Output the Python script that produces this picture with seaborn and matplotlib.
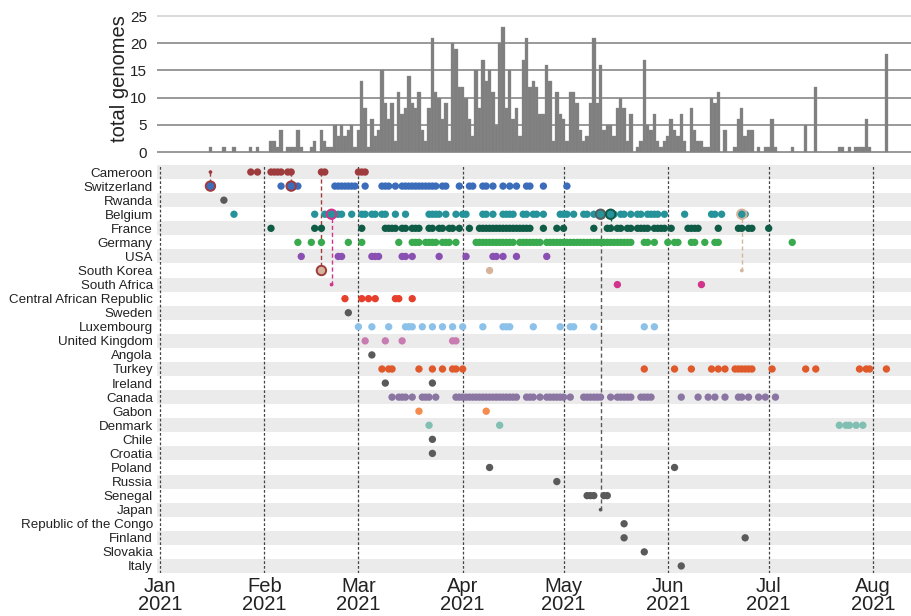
import matplotlib
matplotlib.use("Agg")
import matplotlib.pyplot as plt
import numpy as np
import pandas as pd
import seaborn as sns

# All days are counted from 2021-01-01 (day 0 = 1 Jan 2021)

# ---- daily totals (top histogram), consecutive days starting at hist_start_day
hist_start_day = 15
hist_counts = [1, 0, 0, 0, 1, 0, 0, 1, 0, 0, 0, 0, 1, 0, 1, 0, 0, 0, 2, 2, 1, 4, 0, 1, 1, 1, 4, 1, 0, 0,
               1, 2, 0, 4, 2, 1, 1,
               5, 3, 5, 3, 4, 5, 1, 4, 13, 8, 1, 6, 3, 4, 15, 9, 6, 9, 2, 11, 7, 8, 14, 9, 8, 11, 4, 2,
               8, 21, 11, 10, 6, 9, 2, 20, 19, 12, 12, 10, 6, 3, 15, 8, 17, 13, 15, 11, 5, 20,
               23, 8, 15, 6, 8, 3, 17, 21, 12, 13, 12, 7, 7, 16, 13, 2, 11, 7, 6, 2, 11, 11, 9, 4, 2,
               3, 9, 21, 9, 16, 4, 5, 5, 3, 8, 10, 8, 2, 7, 0, 1, 2, 17, 5, 4, 7, 2, 1, 2, 3, 6, 4, 3, 7, 2,
               0, 8, 4, 2, 2, 1, 1, 10, 9, 11, 0, 4, 0, 0, 1, 6, 8, 3, 4, 4, 0, 1, 0, 1, 1, 6, 1, 0, 0, 0,
               0, 1, 0, 0, 0, 5, 0, 0, 12, 0, 0, 0, 0, 0, 0, 1, 1, 0, 1, 0, 1, 1, 1, 6, 1, 0, 0, 0, 0, 18]

# ---- countries (rows, top to bottom) and their colours
countries = ["Cameroon", "Switzerland", "Rwanda", "Belgium", "France", "Germany", "USA",
             "South Korea", "South Africa", "Central African Republic", "Sweden", "Luxembourg",
             "United Kingdom", "Angola", "Turkey", "Ireland", "Canada", "Gabon", "Denmark", "Chile",
             "Croatia", "Poland", "Russia", "Senegal", "Japan", "Republic of the Congo", "Finland",
             "Slovakia", "Italy"]
country_colors = ["#9e3b3d", "#3b6dbb", "#5a5a5a", "#26939a", "#0f5c46", "#3aaa4e", "#8a4fb2",
                  "#d5b49b", "#d3348b", "#e6402c", "#5a5a5a", "#8cc1e9", "#c87cb1", "#5a5a5a",
                  "#e0592a", "#5a5a5a", "#8b76a3", "#f58b4c", "#80bfb2", "#5a5a5a", "#5a5a5a",
                  "#5a5a5a", "#5a5a5a", "#5a5a5a", "#5a5a5a", "#5a5a5a", "#5a5a5a", "#5a5a5a", "#5a5a5a"]

# ---- sampling days per country
cameroon = [27, 29, 33, 34, 35, 36, 38, 39, 48, 49, 59, 60, 61]
switzerland = [36, 40, 41, 52, 53, 54, 55, 56, 57, 58, 61, 66, 67, 68, 70, 72, 73, 74, 75, 76, 77,
               78, 79, 80, 81, 82, 84, 85, 89, 92, 93, 96, 97, 99, 102, 104, 106, 109, 110, 114, 121]
rwanda = [19]
belgium = [22, 46, 49, 50, 52, 53, 54, 57, 60, 61, 63, 64, 66, 67, 70, 73, 80, 81, 82, 83, 85, 88,
           90, 91, 96, 97, 99, 102, 103, 104, 105, 108, 109, 111, 112, 114, 119, 120, 121, 123, 126,
           127, 129, 135, 137, 138, 140, 142, 143, 145, 146, 147, 148, 150, 156, 164, 165, 167, 174]
france = [33, 46, 48, 60, 67, 68, 69, 70, 72, 73, 75, 76, 77, 80, 81, 83, 84, 86, 87, 89, 92, 95, 96,
          97, 98, 99, 100, 101, 102, 103, 104, 105, 106, 107, 108, 109, 110, 114, 118, 120, 129, 133,
          134, 136, 137, 139, 140, 142, 143, 144, 145, 147, 148, 149, 150, 152, 157, 158, 159, 160,
          166, 172, 173, 175, 176, 181]
germany = [41, 45, 48, 56, 60, 71, 75, 76, 77, 79, 80, 81, 82, 84, 85, 86, 88, 94, 95, 96, 97, 98, 99,
           100, 101, 102, 103, 104, 105, 107, 108, 109, 110, 111, 112, 113, 115, 116, 117, 118, 119,
           120, 121, 122, 123, 124, 125, 126, 127, 128, 129, 130, 131, 132, 133, 134, 135, 136, 137,
           138, 139, 140, 144, 145, 147, 151, 153, 154, 158, 159, 162, 165, 166, 188]
usa = [42, 53, 54, 63, 64, 65, 72, 73, 75, 83, 91, 99, 100, 102, 106, 115]
south_korea = [98]
south_africa = [136, 161]
central_african_republic = [55, 60, 62, 64, 70, 71, 75]
sweden = [56]
luxembourg = [59, 63, 68, 73, 74, 75, 78, 81, 84, 87, 90, 96, 102, 103, 104, 111, 119, 122, 123, 129,
              144, 147]
united_kingdom = [61, 67, 72, 87, 88]
angola = [63]
turkey = [66, 68, 69, 77, 81, 84, 87, 88, 90, 144, 153, 158, 164, 166, 168, 171, 172, 173, 174, 175,
          176, 182, 192, 195, 208, 210, 211, 216]
ireland = [67, 81]
canada = [69, 71, 72, 73, 75, 78, 79, 80, 82, 88, 89, 90, 91, 92, 93, 94, 95, 96, 97, 98, 99, 100,
          101, 102, 103, 104, 105, 106, 109, 110, 111, 113, 115, 116, 117, 118, 119, 120, 122, 126,
          127, 128, 129, 130, 131, 134, 136, 137, 138, 139, 140, 143, 144, 145, 146, 155, 160, 163,
          165, 168, 172, 173, 175, 178, 180, 183]
gabon = [77, 97]
denmark = [80, 101, 202, 204, 205, 207, 209]
chile = [81]
croatia = [81]
poland = [98, 153]
russia = [118]
senegal = [127, 128, 129, 132, 133]
japan = []
republic_of_the_congo = [138]
finland = [138, 174]
slovakia = [144]
italy = [155]

# ---- highlighted links (small source dot -> big circle in target row)
link_days = [15, 39, 48, 51, 131, 134, 173]
link_source = ["Cameroon", "Cameroon", "Cameroon", "South Africa", "Japan", "France", "South Korea"]
link_target = ["Switzerland", "Switzerland", "South Korea", "Belgium", "Belgium", "Belgium", "Belgium"]
link_small_source = [True, False, False, True, True, False, True]

month_days = [0, 31, 59, 90, 120, 151, 181, 212]
month_labels = ["Jan\n2021", "Feb\n2021", "Mar\n2021", "Apr\n2021", "May\n2021", "Jun\n2021",
                "Jul\n2021", "Aug\n2021"]

# ---------------------------------------------------------------------------
sns.set_style("white")
plt.rcParams["font.family"] = ["Liberation Sans", "DejaVu Sans"]
plt.rcParams["text.color"] = "#222222"

day_lists = [cameroon, switzerland, rwanda, belgium, france, germany, usa, south_korea, south_africa,
             central_african_republic, sweden, luxembourg, united_kingdom, angola, turkey, ireland,
             canada, gabon, denmark, chile, croatia, poland, russia, senegal, japan,
             republic_of_the_congo, finland, slovakia, italy]
palette = dict(zip(countries, country_colors))
row_of = {c: i for i, c in enumerate(countries)}

rows = []
for c, days in zip(countries, day_lists):
    for d in days:
        rows.append((c, d, row_of[c]))
df = pd.DataFrame(rows, columns=["country", "day", "row"])

hist_df = pd.DataFrame({"day": np.arange(hist_start_day, hist_start_day + len(hist_counts)),
                        "count": hist_counts})

W, H = 911, 616
fig = plt.figure(figsize=(W / 100, H / 100), dpi=100)
px_per_day = 3.363
x0_day = -3 / px_per_day
x1_day = (W - 160) / px_per_day
left = 157 / W

# ---- top histogram
ax_t = fig.add_axes([left, 1 - 154.2 / H, 1 - left, (154.2 - 2.4) / H])
for v in [0, 5, 10, 15, 20, 25]:
    ax_t.axhline(v, color="#cfcfcf" if v == 25 else "#7d7d7d", lw=1.1, zorder=0)
sns.histplot(data=hist_df, x="day", weights="count", binwidth=1,
             binrange=(hist_start_day - 0.5, hist_start_day + len(hist_counts) - 0.5),
             color="#7f7f7f", alpha=1, edgecolor="#8c8c8c", linewidth=0.25, ax=ax_t, zorder=2)
ax_t.set_xlim(x0_day, x1_day)
ax_t.set_ylim(-0.4, 27.5)
ax_t.set_yticks([0, 5, 10, 15, 20, 25])
ax_t.tick_params(axis="y", labelsize=11, length=5, width=0.8, color="#888888", pad=2,
                 labelcolor="#222222")
ax_t.set_xticks([])
ax_t.set_xlabel("")
ax_t.set_ylabel("total genomes", fontsize=14.5, labelpad=1, color="#222222")
for s in ax_t.spines.values():
    s.set_visible(False)

# ---- bottom timeline
ax = fig.add_axes([left, 1 - 573 / H, 1 - left, (573 - 165) / H])
for i in range(len(countries)):
    if i % 2 == 0:
        ax.axhspan(i - 0.5, i + 0.5, color="#ebebeb", lw=0, zorder=0)
for md in month_days:
    ax.axvline(md, color="#444444", lw=0.9, ls=(0, (2.2, 1.6)), zorder=1)

# link lines
for d, src, tgt in zip(link_days, link_source, link_target):
    ax.plot([d, d], [row_of[src], row_of[tgt]], color=palette[src], lw=1.0,
            ls=(0, (3, 2)), zorder=2)

sns.scatterplot(data=df, x="day", y="row", hue="country", palette=palette, s=28,
                linewidth=0, legend=False, ax=ax, zorder=3)

# big circles in target rows
big = pd.DataFrame({"day": link_days, "row": [row_of[t] for t in link_target]})
ax.scatter(big["day"], big["row"], s=46, c=[palette[t] for t in link_target],
           edgecolors=[palette[s] for s in link_source], linewidths=1.4, zorder=4)
# small source dots
sm = [(d, row_of[s], palette[s]) for d, s, f in zip(link_days, link_source, link_small_source) if f]
ax.scatter([a[0] for a in sm], [a[1] for a in sm], s=7, c=[a[2] for a in sm], lw=0, zorder=5)

ax.set_xlim(x0_day, x1_day)
ax.set_ylim(len(countries) - 0.5, -0.5)
ax.set_yticks(range(len(countries)))
ax.set_yticklabels(countries, fontsize=9.6, color="#222222")
ax.set_xticks(month_days)
ax.set_xticklabels(month_labels, fontsize=14.5, linespacing=0.95, color="#222222")
ax.tick_params(axis="both", length=0)
ax.tick_params(axis="y", pad=3)
ax.tick_params(axis="x", pad=3)
ax.set_xlabel("")
ax.set_ylabel("")
for s in ax.spines.values():
    s.set_visible(False)

fig.savefig("out.png", dpi=100)
